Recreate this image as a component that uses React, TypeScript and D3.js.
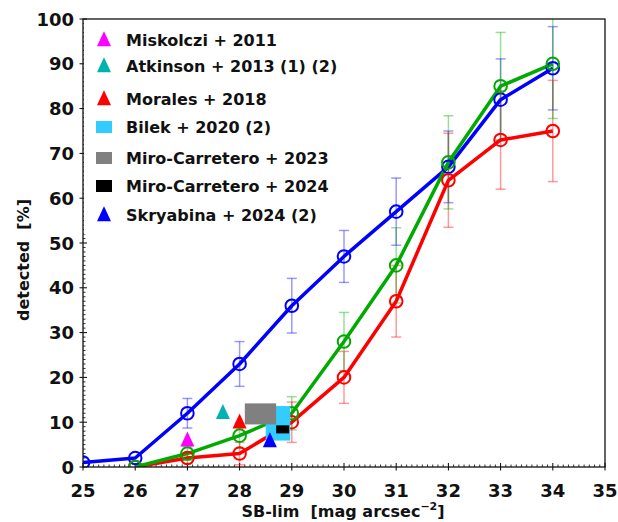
import React from "react";
import * as d3 from "d3";

const sbLim = [25, 26, 27, 28, 29, 30, 31, 32, 33, 34];
const blueVals = [1, 2, 12, 23, 36, 47, 57, 67, 82, 89];
const blueErr = [0, 0, 3.3, 5, 6.1, 5.8, 7.5, 8, 9.1, 9.3];
const sbLim2 = [26, 27, 28, 29, 30, 31, 32, 33, 34];
const greenVals = [0, 3, 7, 12, 28, 45, 68, 85, 90];
const greenErr = [0, 1.5, 2.8, 3.7, 6.5, 8.4, 10.4, 12, 12.2];
const redVals = [0, 2, 3, 10, 20, 37, 64, 73, 75];
const redErr = [0, 1.2, 2.5, 4.5, 5.8, 8, 10.5, 11, 11.3];

const legendLabels = [
  "Miskolczi + 2011",
  "Atkinson + 2013 (1) (2)",
  "Morales + 2018",
  "Bilek + 2020 (2)",
  "Miro-Carretero + 2023",
  "Miro-Carretero + 2024",
  "Skryabina + 2024 (2)",
];
const legendColors = ["#ff00ff", "#00b2b2", "#ff0000", "#33ccff", "#808080", "#000000", "#0000ff"];
const legendShapes = ["tri", "tri", "tri", "rect", "rect", "rect", "tri"];

// literature points (triangles)
const triX = [27, 27.68, 28, 28.58];
const triY = [6, 12.1, 10, 5.8];
const triColors = ["#ff00ff", "#00b2b2", "#ff0000", "#0000ff"];

// literature boxes: [x0, x1, y0, y1]
const boxX0 = [28.5, 28.1, 28.7];
const boxX1 = [28.97, 28.7, 28.95];
const boxY0 = [5.9, 9.5, 7.5];
const boxY1 = [13.6, 14.2, 9.3];
const boxColors = ["#33ccff", "#808080", "#000000"];

const xTicks = [25, 26, 27, 28, 29, 30, 31, 32, 33, 34, 35];
const yTicks = [0, 10, 20, 30, 40, 50, 60, 70, 80, 90, 100];

export default function App() {
  const W = 618, H = 522;
  const L = 83, R = 605, T = 19, B = 467;
  const x = d3.scaleLinear().domain([25, 35]).range([L, R]);
  const y = d3.scaleLinear().domain([0, 100]).range([B, T]);
  const font = "'DejaVu Sans', sans-serif";

  const series = [
    { xs: sbLim, vs: blueVals, es: blueErr, color: "#0000ff" },
    { xs: sbLim2, vs: redVals, es: redErr, color: "#ff0000" },
    { xs: sbLim2, vs: greenVals, es: greenErr, color: "#00aa00" },
  ];
  const line = d3.line<[number, number]>().x((d) => x(d[0])).y((d) => y(d[1]));

  const minorX = d3.range(250, 351).map((v) => v / 10).filter((v) => Math.abs(v - Math.round(v)) > 1e-6);
  const minorY = d3.range(0, 101).filter((v) => v % 10 !== 0);

  const legendRowY = [40, 66, 99, 127, 158, 186, 215];
  const triPath = (cx: number, cy: number, s: number) =>
    `M${cx},${cy - s * 0.62}L${cx + s / 2},${cy + s * 0.45}L${cx - s / 2},${cy + s * 0.45}Z`;

  return (
    <svg width={W} height={H} style={{ position: "absolute", left: 0, top: 0, background: "#fff" }}>
      <defs>
        <clipPath id="plotclip">
          <rect x={L} y={T} width={R - L} height={B - T} />
        </clipPath>
      </defs>
      <rect x={0} y={0} width={W} height={H} fill="#fff" />
      {/* ticks */}
      {minorX.map((v) => (
        <line key={"mx" + v} x1={x(v)} x2={x(v)} y1={B} y2={B - 2.5} stroke="#000" strokeWidth={0.8} />
      ))}
      {xTicks.map((v) => (
        <line key={"Mx" + v} x1={x(v)} x2={x(v)} y1={B + 3.5} y2={B - 4} stroke="#000" strokeWidth={1} />
      ))}
      {minorY.map((v) => (
        <line key={"my" + v} x1={L} x2={L + 2.5} y1={y(v)} y2={y(v)} stroke="#000" strokeWidth={0.8} />
      ))}
      {yTicks.map((v) => (
        <line key={"My" + v} x1={L - 3.5} x2={L + 4} y1={y(v)} y2={y(v)} stroke="#000" strokeWidth={1} />
      ))}
      <g clipPath="url(#plotclip)">
        {/* error bars */}
        {series.map((s, si) =>
          s.xs.map((xv, i) =>
            s.es[i] > 0 ? (
              <g key={"e" + si + "-" + i} stroke={s.color} strokeOpacity={0.4} strokeWidth={1.5}>
                <line x1={x(xv)} x2={x(xv)} y1={y(s.vs[i] - s.es[i])} y2={y(s.vs[i] + s.es[i])} />
                <line x1={x(xv) - 5} x2={x(xv) + 5} y1={y(s.vs[i] - s.es[i])} y2={y(s.vs[i] - s.es[i])} />
                <line x1={x(xv) - 5} x2={x(xv) + 5} y1={y(s.vs[i] + s.es[i])} y2={y(s.vs[i] + s.es[i])} />
              </g>
            ) : null
          )
        )}
        {/* lines */}
        {series.map((s, si) => (
          <path
            key={"l" + si}
            d={line(s.xs.map((xv, i) => [xv, s.vs[i]] as [number, number])) || ""}
            fill="none"
            stroke={s.color}
            strokeWidth={3.5}
            strokeLinejoin="round"
          />
        ))}
        {series.map((s, si) =>
          s.xs.map((xv, i) => (
            <circle key={"c" + si + "-" + i} cx={x(xv)} cy={y(s.vs[i])} r={6.3} fill="none" stroke={s.color} strokeWidth={2} />
          ))
        )}
        {/* literature boxes */}
        {boxColors.map((c, i) => (
          <rect
            key={"b" + i}
            x={x(boxX0[i])}
            y={y(boxY1[i])}
            width={x(boxX1[i]) - x(boxX0[i])}
            height={y(boxY0[i]) - y(boxY1[i])}
            fill={c}
          />
        ))}
        {triColors.map((c, i) => (
          <path key={"t" + i} d={triPath(x(triX[i]), y(triY[i]), 14)} fill={c} />
        ))}
      </g>
      {/* legend background */}
      <rect x={L + 1} y={T + 1} width={255} height={214} fill="#fff" />
      {legendLabels.map((lab, i) => (
        <g key={"lg" + i}>
          {legendShapes[i] === "tri" ? (
            <path d={triPath(104, legendRowY[i], 14)} fill={legendColors[i]} />
          ) : (
            <rect x={96} y={legendRowY[i] - 6} width={16} height={12} fill={legendColors[i]} />
          )}
          <text x={126} y={legendRowY[i] + 6} fontFamily={font} fontWeight="bold" fontSize={16} fill="#111">
            {lab}
          </text>
        </g>
      ))}
      {/* frame */}
      <rect x={L} y={T} width={R - L} height={B - T} fill="none" stroke="#111" strokeWidth={1.3} />
      {/* tick labels */}
      {xTicks.map((v) => (
        <text key={"xl" + v} x={x(v)} y={497} textAnchor="middle" fontFamily={font} fontWeight="bold" fontSize={18} fill="#111">
          {v}
        </text>
      ))}
      {yTicks.map((v) => (
        <text key={"yl" + v} x={74} y={y(v) + 6.5} textAnchor="end" fontFamily={font} fontWeight="bold" fontSize={18} fill="#111">
          {v}
        </text>
      ))}
      <text
        x={343}
        y={517}
        textAnchor="middle"
        fontFamily={font}
        fontWeight="bold"
        fontSize={16}
        fill="#111"
        style={{ whiteSpace: "pre" }}
      >
        {"SB-lim  [mag arcsec"}
        <tspan dy={-7} fontSize={11}>−2</tspan>
        <tspan dy={7}>]</tspan>
      </text>
      <text
        transform={`translate(29,260) rotate(-90)`}
        textAnchor="middle"
        fontFamily={font}
        fontWeight="bold"
        fontSize={16}
        fill="#111"
        style={{ whiteSpace: "pre" }}
      >
        {"detected  [%]"}
      </text>
    </svg>
  );
}
